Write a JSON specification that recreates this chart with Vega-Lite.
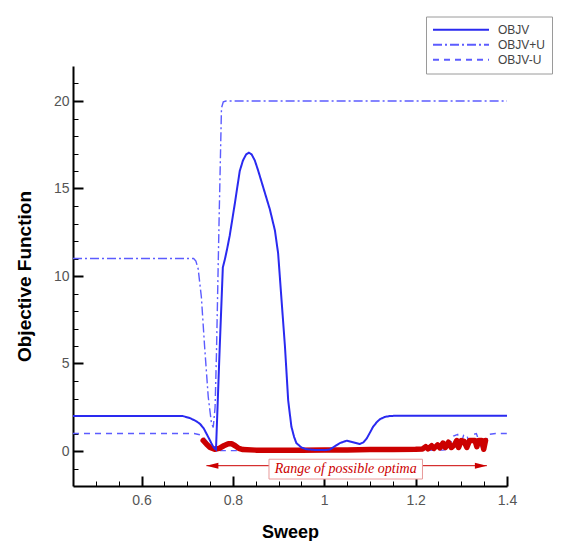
{
  "$schema": "https://vega.github.io/schema/vega-lite/v6.json",
  "width": 434,
  "height": 420,
  "autosize": {"type": "none"},
  "padding": {"left": 73, "top": 66, "right": 61, "bottom": 55},
  "background": "white",
  "config": {
    "view": {"stroke": null},
    "font": "Liberation Sans",
    "legend": {
      "orient": "none",
      "legendX": 353,
      "legendY": -49.5,
      "strokeColor": "#9a9a9a",
      "fillColor": "white",
      "padding": 6,
      "symbolType": "stroke",
      "symbolSize": 3136,
      "symbolStrokeWidth": 2,
      "clipHeight": 14.5,
      "rowPadding": 0,
      "labelFontSize": 12,
      "labelColor": "#444444",
      "labelOffset": 8
    }
  },
  "datasets": {
    "curves": [
      {"series": "OBJV", "x": 0.45, "y": 2.0},
      {"series": "OBJV", "x": 0.69, "y": 2.0},
      {"series": "OBJV", "x": 0.706, "y": 1.88},
      {"series": "OBJV", "x": 0.72, "y": 1.7},
      {"series": "OBJV", "x": 0.728, "y": 1.55},
      {"series": "OBJV", "x": 0.736, "y": 1.3},
      {"series": "OBJV", "x": 0.742, "y": 1.0},
      {"series": "OBJV", "x": 0.748, "y": 0.7},
      {"series": "OBJV", "x": 0.753, "y": 0.44},
      {"series": "OBJV", "x": 0.758, "y": 0.2},
      {"series": "OBJV", "x": 0.763, "y": 0.08},
      {"series": "OBJV", "x": 0.771, "y": 5.8},
      {"series": "OBJV", "x": 0.778, "y": 10.5},
      {"series": "OBJV", "x": 0.782, "y": 10.9},
      {"series": "OBJV", "x": 0.787, "y": 11.5},
      {"series": "OBJV", "x": 0.793, "y": 12.3},
      {"series": "OBJV", "x": 0.804, "y": 14.1},
      {"series": "OBJV", "x": 0.815, "y": 16.0},
      {"series": "OBJV", "x": 0.822, "y": 16.6},
      {"series": "OBJV", "x": 0.829, "y": 16.95},
      {"series": "OBJV", "x": 0.835, "y": 17.05},
      {"series": "OBJV", "x": 0.841, "y": 16.95},
      {"series": "OBJV", "x": 0.848, "y": 16.6},
      {"series": "OBJV", "x": 0.855, "y": 16.05},
      {"series": "OBJV", "x": 0.866, "y": 15.1},
      {"series": "OBJV", "x": 0.881, "y": 13.8},
      {"series": "OBJV", "x": 0.892, "y": 12.6},
      {"series": "OBJV", "x": 0.899, "y": 11.3},
      {"series": "OBJV", "x": 0.906, "y": 8.8},
      {"series": "OBJV", "x": 0.914, "y": 5.96},
      {"series": "OBJV", "x": 0.921, "y": 2.9},
      {"series": "OBJV", "x": 0.928, "y": 1.4},
      {"series": "OBJV", "x": 0.934, "y": 0.8},
      {"series": "OBJV", "x": 0.939, "y": 0.45},
      {"series": "OBJV", "x": 0.95, "y": 0.2},
      {"series": "OBJV", "x": 0.961, "y": 0.1},
      {"series": "OBJV", "x": 0.98, "y": 0.06},
      {"series": "OBJV", "x": 1.0, "y": 0.05},
      {"series": "OBJV", "x": 1.012, "y": 0.08},
      {"series": "OBJV", "x": 1.022, "y": 0.25},
      {"series": "OBJV", "x": 1.034, "y": 0.45},
      {"series": "OBJV", "x": 1.049, "y": 0.59},
      {"series": "OBJV", "x": 1.063, "y": 0.5},
      {"series": "OBJV", "x": 1.078, "y": 0.4},
      {"series": "OBJV", "x": 1.086, "y": 0.5},
      {"series": "OBJV", "x": 1.093, "y": 0.72},
      {"series": "OBJV", "x": 1.1, "y": 1.05},
      {"series": "OBJV", "x": 1.107, "y": 1.39},
      {"series": "OBJV", "x": 1.115, "y": 1.65},
      {"series": "OBJV", "x": 1.122, "y": 1.82},
      {"series": "OBJV", "x": 1.133, "y": 1.95},
      {"series": "OBJV", "x": 1.144, "y": 2.0},
      {"series": "OBJV", "x": 1.16, "y": 2.02},
      {"series": "OBJV", "x": 1.4, "y": 2.02},
      {"series": "OBJV+U", "x": 0.45, "y": 11.0},
      {"series": "OBJV+U", "x": 0.714, "y": 11.0},
      {"series": "OBJV+U", "x": 0.719, "y": 10.85},
      {"series": "OBJV+U", "x": 0.724, "y": 10.4},
      {"series": "OBJV+U", "x": 0.731, "y": 8.8},
      {"series": "OBJV+U", "x": 0.738, "y": 6.0},
      {"series": "OBJV+U", "x": 0.746, "y": 3.1},
      {"series": "OBJV+U", "x": 0.753, "y": 1.6},
      {"series": "OBJV+U", "x": 0.757, "y": 1.35},
      {"series": "OBJV+U", "x": 0.761, "y": 2.5},
      {"series": "OBJV+U", "x": 0.764, "y": 5.5},
      {"series": "OBJV+U", "x": 0.77, "y": 13.5},
      {"series": "OBJV+U", "x": 0.775, "y": 19.6},
      {"series": "OBJV+U", "x": 0.779, "y": 19.95},
      {"series": "OBJV+U", "x": 0.785, "y": 20.0},
      {"series": "OBJV+U", "x": 1.4, "y": 20.0},
      {"series": "OBJV-U", "x": 0.45, "y": 1.0},
      {"series": "OBJV-U", "x": 0.715, "y": 1.0},
      {"series": "OBJV-U", "x": 0.728, "y": 0.93},
      {"series": "OBJV-U", "x": 0.738, "y": 0.72},
      {"series": "OBJV-U", "x": 0.748, "y": 0.4},
      {"series": "OBJV-U", "x": 0.756, "y": 0.1},
      {"series": "OBJV-U", "x": 0.762, "y": 0.02},
      {"series": "OBJV-U", "x": 1.0, "y": 0.02},
      {"series": "OBJV-U", "x": 1.26, "y": 0.05},
      {"series": "OBJV-U", "x": 1.27, "y": 0.1},
      {"series": "OBJV-U", "x": 1.283, "y": 0.85},
      {"series": "OBJV-U", "x": 1.292, "y": 0.95},
      {"series": "OBJV-U", "x": 1.298, "y": 0.3},
      {"series": "OBJV-U", "x": 1.305, "y": 0.9},
      {"series": "OBJV-U", "x": 1.312, "y": 0.95},
      {"series": "OBJV-U", "x": 1.318, "y": 0.3},
      {"series": "OBJV-U", "x": 1.327, "y": 0.95},
      {"series": "OBJV-U", "x": 1.333, "y": 1.0},
      {"series": "OBJV-U", "x": 1.343, "y": 0.25},
      {"series": "OBJV-U", "x": 1.35, "y": 0.3},
      {"series": "OBJV-U", "x": 1.36, "y": 0.95},
      {"series": "OBJV-U", "x": 1.375, "y": 1.0},
      {"series": "OBJV-U", "x": 1.4, "y": 1.0}
    ],
    "red": [
      {"x": 0.735, "y": 0.6},
      {"x": 0.742, "y": 0.4},
      {"x": 0.75, "y": 0.2},
      {"x": 0.76, "y": 0.1},
      {"x": 0.77, "y": 0.15},
      {"x": 0.78, "y": 0.3},
      {"x": 0.79, "y": 0.42},
      {"x": 0.797, "y": 0.42},
      {"x": 0.805, "y": 0.3},
      {"x": 0.813, "y": 0.15},
      {"x": 0.822, "y": 0.08},
      {"x": 0.85, "y": 0.05},
      {"x": 0.9, "y": 0.05},
      {"x": 0.95, "y": 0.05},
      {"x": 1.0, "y": 0.06},
      {"x": 1.05, "y": 0.06},
      {"x": 1.1, "y": 0.08},
      {"x": 1.15, "y": 0.08},
      {"x": 1.2, "y": 0.1},
      {"x": 1.215, "y": 0.12},
      {"x": 1.222, "y": 0.25},
      {"x": 1.227, "y": 0.12},
      {"x": 1.235, "y": 0.3},
      {"x": 1.24, "y": 0.15},
      {"x": 1.248, "y": 0.35},
      {"x": 1.253, "y": 0.18},
      {"x": 1.26, "y": 0.45},
      {"x": 1.265, "y": 0.2},
      {"x": 1.272, "y": 0.5},
      {"x": 1.278, "y": 0.2},
      {"x": 1.285, "y": 0.35},
      {"x": 1.29, "y": 0.6},
      {"x": 1.294, "y": 0.2},
      {"x": 1.3, "y": 0.6},
      {"x": 1.306, "y": 0.55},
      {"x": 1.312, "y": 0.2},
      {"x": 1.318, "y": 0.6},
      {"x": 1.322, "y": 0.6},
      {"x": 1.33, "y": 0.6},
      {"x": 1.334, "y": 0.25},
      {"x": 1.338, "y": 0.6},
      {"x": 1.345, "y": 0.6},
      {"x": 1.349, "y": 0.1},
      {"x": 1.353, "y": 0.6}
    ],
    "arrow": [{"x": 0.742, "xe": 1.356, "y": -0.84}],
    "heads": [
      {"x": 0.742, "y": -0.84, "dir": "L"},
      {"x": 1.356, "y": -0.84, "dir": "R"}
    ],
    "box": [{"x": 0.879, "xe": 1.215, "y": -0.47, "ye": -1.6}],
    "note": [{"x": 1.047, "y": -1.05, "label": "Range of possible optima"}]
  },
  "encoding": {
    "x": {
      "field": "x",
      "type": "quantitative",
      "scale": {"domain": [0.45, 1.4], "nice": false, "zero": false},
      "axis": {
        "title": "Sweep",
        "values": [0.5, 0.55, 0.6, 0.65, 0.7, 0.75, 0.8, 0.85, 0.9, 0.95, 1, 1.05, 1.1, 1.15, 1.2, 1.25, 1.3, 1.35, 1.4],
        "labelExpr": "abs(datum.value*5 - round(datum.value*5)) < 0.001 ? format(datum.value, '~g') : ''",
        "tickSize": {"condition": {"test": "abs(datum.value*5 - round(datum.value*5)) < 0.001", "value": -10}, "value": -5},
        "tickWidth": {"condition": {"test": "abs(datum.value*5 - round(datum.value*5)) < 0.001", "value": 2}, "value": 1},
        "tickColor": "black",
        "domainColor": "black",
        "domainWidth": 2,
        "grid": false,
        "labelFontSize": 14,
        "labelColor": "#555555",
        "labelPadding": 17,
        "labelOverlap": false,
        "labelFlush": false,
        "titleFontSize": 18,
        "titleFontWeight": "bold",
        "titleColor": "black",
        "titlePadding": 11
      }
    },
    "y": {
      "field": "y",
      "type": "quantitative",
      "scale": {"domain": [-2, 22], "nice": false, "zero": false},
      "axis": {
        "title": "Objective Function",
        "values": [-1, 0, 1, 2, 3, 4, 5, 6, 7, 8, 9, 10, 11, 12, 13, 14, 15, 16, 17, 18, 19, 20, 21],
        "labelExpr": "datum.value % 5 === 0 ? format(datum.value, 'd') : ''",
        "tickSize": {"condition": {"test": "datum.value % 5 === 0", "value": -10}, "value": -5},
        "tickWidth": {"condition": {"test": "datum.value % 5 === 0", "value": 2}, "value": 1},
        "tickColor": "black",
        "domainColor": "black",
        "domainWidth": 2,
        "grid": false,
        "labelFontSize": 14,
        "labelColor": "#555555",
        "labelPadding": 14,
        "labelOverlap": false,
        "labelFlush": false,
        "titleFontSize": 19,
        "titleFontWeight": "bold",
        "titleColor": "black",
        "titlePadding": 19
      }
    }
  },
  "layer": [
    {
      "data": {"name": "curves"},
      "transform": [{"filter": "datum.series !== 'OBJV'"}],
      "mark": {"type": "line", "strokeWidth": 1.4},
      "encoding": {
        "color": {"field": "series", "type": "nominal", "scale": {"domain": ["OBJV", "OBJV+U", "OBJV-U"], "range": ["#2a2af0", "#5c5cff", "#5c5cff"]}, "legend": {"title": null}},
        "strokeDash": {"field": "series", "type": "nominal", "scale": {"domain": ["OBJV", "OBJV+U", "OBJV-U"], "range": [[1, 0], [9, 3, 2, 3], [6, 5]]}, "legend": {"title": null}}
      }
    },
    {
      "data": {"name": "red"},
      "mark": {"type": "line", "color": "#cc0000", "strokeWidth": 5.5, "strokeCap": "round", "strokeJoin": "round"},
      "encoding": {}
    },
    {
      "data": {"name": "curves"},
      "transform": [{"filter": "datum.series === 'OBJV'"}],
      "mark": {"type": "line", "strokeWidth": 2},
      "encoding": {
        "color": {"field": "series", "type": "nominal"},
        "strokeDash": {"field": "series", "type": "nominal"}
      }
    },
    {
      "data": {"name": "arrow"},
      "mark": {"type": "rule", "color": "#cc0000", "strokeWidth": 1},
      "encoding": {"x2": {"field": "xe"}}
    },
    {
      "data": {"name": "heads"},
      "mark": {"type": "point", "filled": true, "color": "#cc0000", "opacity": 1, "size": 144},
      "encoding": {
        "shape": {"field": "dir", "type": "nominal", "scale": {"domain": ["L", "R"], "range": ["M 0 0 L 2 -0.5 L 2 0.5 Z", "M 0 0 L -2 -0.5 L -2 0.5 Z"]}, "legend": null}
      }
    },
    {
      "data": {"name": "box"},
      "mark": {"type": "rect", "fill": "white", "stroke": "#e89a9a", "strokeWidth": 1},
      "encoding": {"x2": {"field": "xe"}, "y2": {"field": "ye"}}
    },
    {
      "data": {"name": "note"},
      "mark": {"type": "text", "font": "Liberation Serif", "fontStyle": "italic", "fontSize": 14, "color": "#cc0000", "align": "center", "baseline": "middle"},
      "encoding": {"text": {"field": "label"}}
    }
  ]
}
